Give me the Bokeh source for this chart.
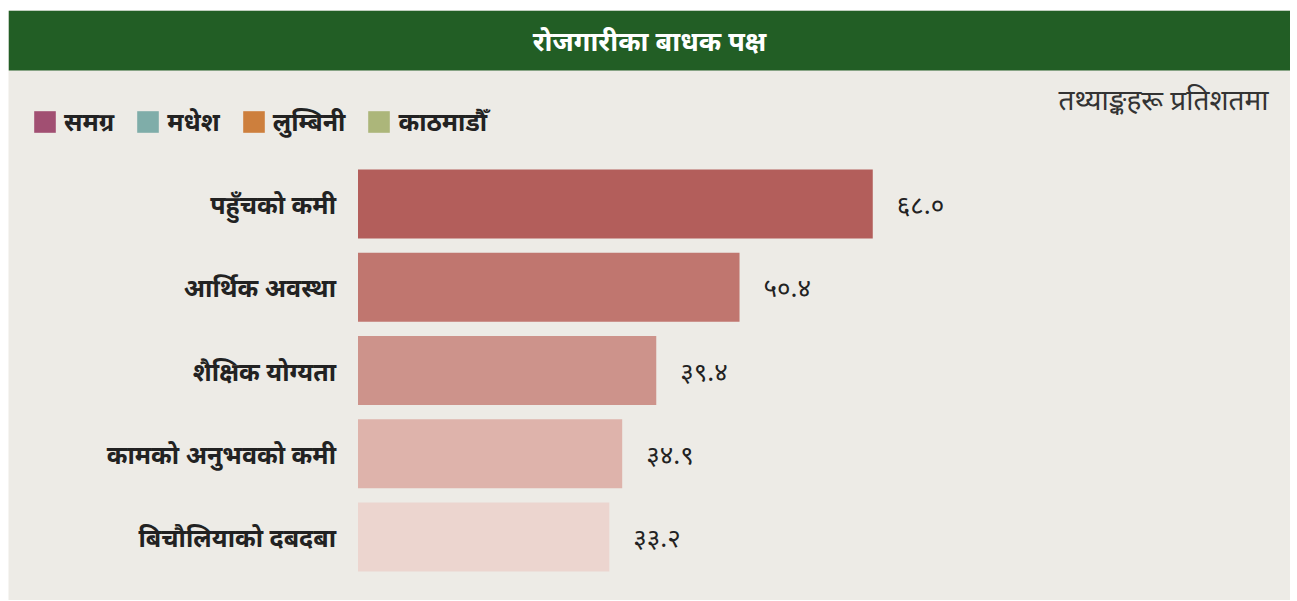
from bokeh.plotting import figure
from bokeh.models import Range1d, BoxAnnotation, Label, Legend, LegendItem, ColumnDataSource
from bokeh.core.properties import value
from bokeh.embed import file_html
from bokeh.resources import INLINE

# ---- data ----
title_text = "रोजगारीका बाधक पक्ष"
subtitle_text = "तथ्याङ्कहरू प्रतिशतमा"
categories = ["पहुँचको कमी", "आर्थिक अवस्था", "शैक्षिक योग्यता", "कामको अनुभवको कमी", "बिचौलियाको दबदबा"]
values = [68.0, 50.4, 39.4, 34.9, 33.2]
bar_colors = ["#B35E5B", "#C0766F", "#CD938B", "#DEB3AB", "#ECD5CF"]
legend_labels = ["समग्र", "मधेश", "लुम्बिनी", "काठमाडौँ"]
legend_colors = ["#A14F72", "#7FADA9", "#CD7F3D", "#ACB67A"]

DEV = str.maketrans("0123456789", "०१२३४५६७८९")
def dev(v):
    return ("%.1f" % v).translate(DEV)

FONT = "Noto Sans"
ML, MT = 8, 10
FW, FH = 1282, 590
W, H = ML + FW, MT + FH
SX = 7.57          # px per unit
SY = 83.25         # px per row
x0 = -349.5 / SX
y_top = -193.5 / SY

def ypx(px):
    return y_top + px / SY

def xpx(px):
    return x0 + px / SX

p = figure(width=W, height=H, output_backend="svg", toolbar_location=None,
           x_range=Range1d(x0, x0 + FW / SX), y_range=Range1d(y_top + FH / SY, y_top),
           min_border_left=ML, min_border_top=MT, min_border_right=0, min_border_bottom=0)
p.axis.visible = False
p.grid.visible = False
p.outline_line_color = None
p.background_fill_color = "#EDEBE6"
p.border_fill_color = "white"

# header
p.add_layout(BoxAnnotation(top=ypx(0), bottom=ypx(60), fill_color="#225E25", fill_alpha=1, line_color=None, level="underlay"))
p.add_layout(Label(x=xpx(FW / 2), y=ypx(30), text=title_text, text_align="center", text_baseline="middle",
                   text_color="white", text_font=FONT, text_font_style="bold", text_font_size="27px"))
p.add_layout(Label(x=xpx(1260), y=ypx(88), text=subtitle_text, text_align="right", text_baseline="middle",
                   text_color="#333333", text_font=FONT, text_font_style="italic", text_font_size="28px"))

rows = list(range(len(categories)))
src = ColumnDataSource(dict(y=rows, v=values, c=bar_colors, cat=categories, lab=[dev(v) for v in values]))
p.hbar(y="y", left=0, right="v", height=0.83, fill_color="c", line_color=None, source=src)
p.text(x=0, y="y", text="cat", x_offset=-22, text_align="right", text_baseline="middle",
       text_font=value(FONT), text_font_style="bold", text_font_size="25px", text_color="#222222", source=src)
p.text(x="v", y="y", text="lab", x_offset=24, text_align="left", text_baseline="middle",
       text_font=value(FONT), text_font_size="26px", text_color="#222222", source=src)

# legend
nan = float("nan")
items = []
for lab, col in zip(legend_labels, legend_colors):
    r = p.quad(left=[nan], right=[nan], top=[nan], bottom=[nan], fill_color=col, line_color=None)
    items.append(LegendItem(label=lab, renderers=[r]))
leg = Legend(items=items, orientation="horizontal", location=(23, FH - 128),
             glyph_width=27, glyph_height=27, label_height=27, label_standoff=6, spacing=20,
             padding=0, margin=0, border_line_color=None, background_fill_alpha=0,
             label_text_font=FONT, label_text_font_style="bold", label_text_font_size="25px",
             label_text_color="#222222")
p.add_layout(leg)

open("out.html", "w").write(file_html(p, INLINE))
